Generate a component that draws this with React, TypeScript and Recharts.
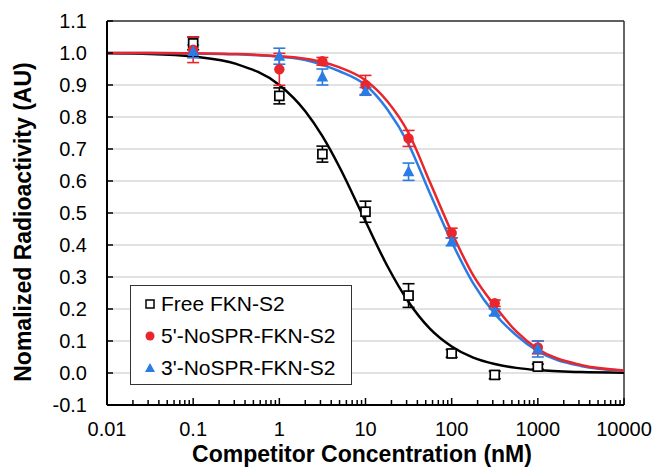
import React from 'react';
import { ComposedChart, Line, Scatter, ErrorBar, XAxis, YAxis, CartesianGrid, Legend, ReferenceLine, Label } from 'recharts';

// measured concentrations (nM)
const concentrations = [0.1, 1, 3.16, 10, 31.6, 100, 316, 1000];

const freeValues = [1.03, 0.866, 0.684, 0.504, 0.242, 0.061, -0.006, 0.02];
const freeErrors = [0.02, 0.025, 0.025, 0.033, 0.037, 0.012, 0.012, 0.008];

const fiveValues = [1.01, 0.949, 0.974, 0.9, 0.733, 0.4375, 0.218, 0.08];
const fiveErrors = [0.04, 0.05, 0.012, 0.03, 0.025, 0.015, 0.01, 0.02];

const threeValues = [1.005, 0.99, 0.925, 0.88, 0.629, 0.41, 0.19, 0.075];
const threeErrors = [0.02, 0.025, 0.025, 0.012, 0.027, 0.012, 0.01, 0.025];

// fitted curves
const curveX = [0.01, 0.0316, 0.1, 0.316, 1, 2, 3.16, 5, 10, 17.8, 31.6, 56.2, 100, 178, 316, 562, 1000, 3160, 10000];
const freeFit = [0.999, 0.997, 0.989, 0.966, 0.9, 0.818, 0.74, 0.643, 0.474, 0.336, 0.222, 0.138, 0.083, 0.048, 0.028, 0.016, 0.009, 0.003, 0.001];
const fiveFit = [1.0, 1.0, 0.999, 0.997, 0.99, 0.982, 0.972, 0.955, 0.915, 0.85, 0.75, 0.595, 0.44, 0.305, 0.21, 0.13, 0.075, 0.025, 0.008];
const threeFit = [1.0, 1.0, 0.999, 0.996, 0.988, 0.978, 0.963, 0.943, 0.9, 0.825, 0.715, 0.56, 0.41, 0.28, 0.185, 0.118, 0.068, 0.022, 0.007];

const seriesNames = ['Free FKN-S2', "5'-NoSPR-FKN-S2", "3'-NoSPR-FKN-S2"];

const xMajorTicks = [0.01, 0.1, 1, 10, 100, 1000, 10000];
const yTicks = [-0.1, 0, 0.1, 0.2, 0.3, 0.4, 0.5, 0.6, 0.7, 0.8, 0.9, 1.0, 1.1];

const RED = '#E8262B';
const BLUE = '#2B7BE4';
const FONT = '"Liberation Sans", Arial, sans-serif';

const xAllTicks: number[] = [];
xMajorTicks.forEach((d, i) => {
  xAllTicks.push(d);
  if (i < xMajorTicks.length - 1) {
    for (let m = 2; m <= 9; m++) xAllTicks.push(+(d * m).toPrecision(3));
  }
});

const toPoints = (vals: number[], errs: number[]) =>
  concentrations.map((x, i) => ({ x, y: vals[i], err: errs[i] }));
const toCurve = (vals: number[]) => curveX.map((x, i) => ({ x, y: vals[i] }));

const freePts = toPoints(freeValues, freeErrors);
const fivePts = toPoints(fiveValues, fiveErrors);
const threePts = toPoints(threeValues, threeErrors);

const SquareShape = (p: any) => (
  <rect x={p.cx - 4.5} y={p.cy - 4.5} width={9} height={9} fill="#fff" stroke="#000" strokeWidth={1.7} />
);
const CircleShape = (p: any) => <circle cx={p.cx} cy={p.cy} r={5.2} fill={RED} />;
const TriangleShape = (p: any) => (
  <path d={`M${p.cx},${p.cy - 6.5} L${p.cx + 5.8},${p.cy + 4.5} L${p.cx - 5.8},${p.cy + 4.5} Z`} fill={BLUE} />
);

const XTick = (props: any) => {
  const { x, y, payload } = props;
  const major = xMajorTicks.includes(payload.value);
  return (
    <g>
      <line x1={x} x2={x} y1={y} y2={y - (major ? 7 : 5)} stroke="#000" strokeWidth={1.5} />
      {major && (
        <text x={x} y={y + 31} textAnchor="middle" fontSize={20} fontFamily={FONT} fill="#000">
          {payload.value}
        </text>
      )}
    </g>
  );
};

const YTick = (props: any) => {
  const { x, y, payload } = props;
  return (
    <g>
      <line x1={x} x2={x + 6} y1={y} y2={y} stroke="#000" strokeWidth={1.5} />
      <text x={x - 20} y={y + 7} textAnchor="end" fontSize={20} fontFamily={FONT} fill="#000">
        {payload.value.toFixed(1)}
      </text>
    </g>
  );
};

const LegendBox = () => (
  <div
    style={{
      border: '1.5px solid #333',
      background: '#fff',
      width: 222,
      height: 100,
      boxSizing: 'border-box',
      fontFamily: FONT,
      fontSize: 21,
      padding: '2px 0 0 12px',
    }}
  >
    {seriesNames.map((name, i) => (
      <div key={name} style={{ display: 'flex', alignItems: 'center', height: 32 }}>
        <svg width={14} height={14} style={{ marginRight: 4 }}>
          {i === 0 && <rect x={3} y={3} width={8} height={8} fill="#fff" stroke="#000" strokeWidth={1.5} />}
          {i === 1 && <circle cx={7} cy={7} r={4.5} fill={RED} />}
          {i === 2 && <path d="M7,2 L12,11 L2,11 Z" fill={BLUE} />}
        </svg>
        <span>{name}</span>
      </div>
    ))}
  </div>
);

export default function App() {
  return (
    <div style={{ position: 'absolute', left: 0, top: 0 }}>
      <ComposedChart width={656} height={469} margin={{ top: 21, right: 32, bottom: 0, left: 0 }}>
        <CartesianGrid horizontal vertical={false} stroke="#d9d9d9" strokeWidth={1.5} />
        <XAxis
          dataKey="x"
          type="number"
          scale="log"
          domain={[0.01, 10000]}
          allowDataOverflow
          ticks={xAllTicks}
          interval={0}
          tick={<XTick />}
          tickSize={0}
          tickMargin={0}
          tickLine={false}
          height={64}
          axisLine={{ stroke: '#000', strokeWidth: 2 }}
        >
          <Label
            content={() => (
              <text x={362} y={462} textAnchor="middle" fontSize={23} fontWeight="bold" fontFamily={FONT} fill="#000">
                Competitor Concentration (nM)
              </text>
            )}
          />
        </XAxis>
        <YAxis
          dataKey="y"
          type="number"
          domain={[-0.1, 1.1]}
          ticks={yTicks}
          interval={0}
          tick={<YTick />}
          tickSize={0}
          tickMargin={0}
          tickLine={false}
          width={107}
          axisLine={{ stroke: '#000', strokeWidth: 2 }}
        >
          <Label
            content={() => (
              <text
                x={0}
                y={0}
                transform="translate(31,222) rotate(-90)"
                textAnchor="middle"
                fontSize={23}
                fontWeight="bold"
                fontFamily={FONT}
                fill="#000"
              >
                Nomalized Radioactivity (AU)
              </text>
            )}
          />
        </YAxis>
        <ReferenceLine y={1.1} stroke="#333" strokeWidth={1.5} />
        <ReferenceLine x={10000} stroke="#333" strokeWidth={1.5} />

        <Line data={toCurve(freeFit)} dataKey="y" type="monotone" stroke="#000" strokeWidth={2.5} dot={false} legendType="none" isAnimationActive={false} />
        <Line data={toCurve(threeFit)} dataKey="y" type="monotone" stroke={BLUE} strokeWidth={2.5} dot={false} legendType="none" isAnimationActive={false} />
        <Line data={toCurve(fiveFit)} dataKey="y" type="monotone" stroke={RED} strokeWidth={2.5} dot={false} legendType="none" isAnimationActive={false} />

        <Scatter name={seriesNames[0]} data={freePts} dataKey="y" shape={SquareShape} isAnimationActive={false}>
          <ErrorBar dataKey="err" direction="y" width={6} stroke="#000" strokeWidth={1.6} />
        </Scatter>
        <Scatter name={seriesNames[1]} data={fivePts} dataKey="y" shape={CircleShape} isAnimationActive={false}>
          <ErrorBar dataKey="err" direction="y" width={6} stroke={RED} strokeWidth={1.6} />
        </Scatter>
        <Scatter name={seriesNames[2]} data={threePts} dataKey="y" shape={TriangleShape} isAnimationActive={false}>
          <ErrorBar dataKey="err" direction="y" width={6} stroke={BLUE} strokeWidth={1.6} />
        </Scatter>

        <Legend
          layout="horizontal"
          verticalAlign="middle"
          align="center"
          content={<LegendBox />}
          wrapperStyle={{ left: 130, top: 285, width: 222 }}
        />
      </ComposedChart>
    </div>
  );
}
